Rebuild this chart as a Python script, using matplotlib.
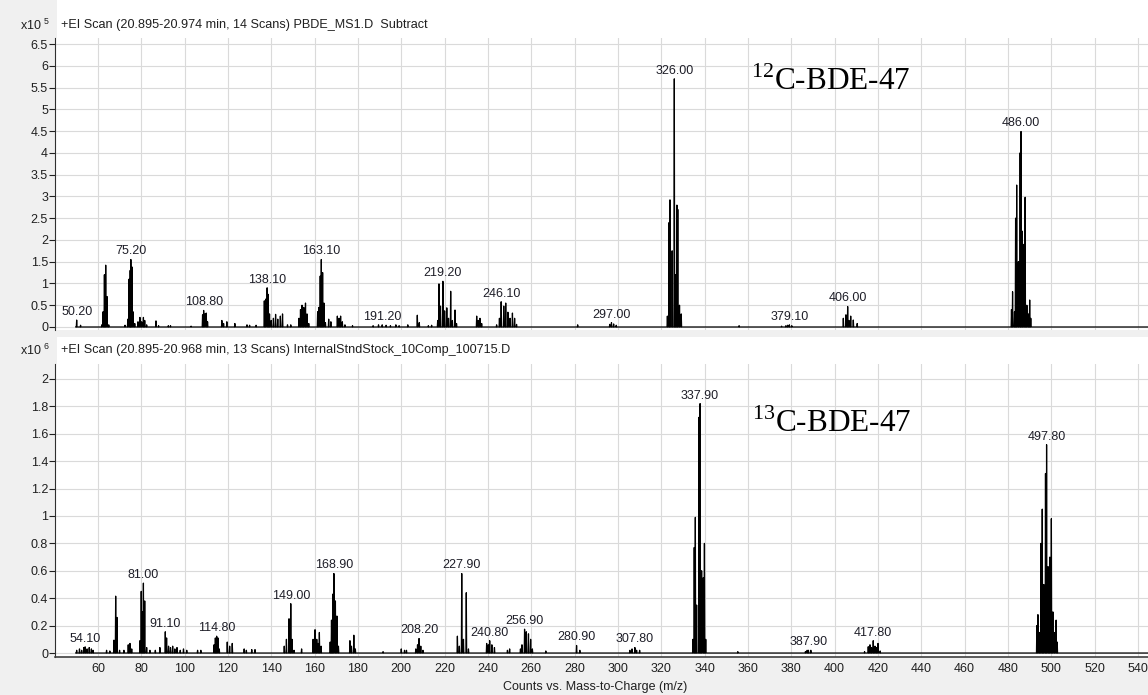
import numpy as np
import matplotlib
matplotlib.use("Agg")
import matplotlib.pyplot as plt
from matplotlib.patches import Rectangle

plt.rcParams['font.family'] = ['Liberation Sans', 'DejaVu Sans']

# 12C-BDE-47 spectrum (counts x10^5), centroided peaks
top_mz = [50.2, 52.0, 61.8, 62.4, 63.0, 63.6, 64.2, 65.0, 72.5, 73.8, 74.4, 74.9, 75.2, 75.7, 76.2, 77.0,
          78.5, 79.4, 80.2, 81.0, 81.6, 82.5, 86.8, 88.0, 92.5, 93.5, 103.0,
          108.3, 108.8, 109.4, 110.0, 110.6, 117.2, 118.0, 119.5, 123.2, 128.8, 130.0, 133.0,
          136.8, 137.4, 138.1, 138.6, 139.2, 140.0, 141.0, 142.0, 143.0, 144.2, 145.2, 147.5, 149.0,
          152.8, 153.5, 154.2, 155.0, 155.8, 156.5, 157.3,
          161.4, 162.0, 162.6, 163.1, 163.7, 164.3, 165.0, 166.5, 167.5, 170.5, 171.3, 172.0, 172.8, 174.0, 177.5,
          187.0, 189.5, 191.2, 193.0, 195.0, 197.5, 199.0, 203.0, 207.4, 208.3, 212.5, 214.0,
          216.8, 217.4, 218.1, 219.2, 220.0, 221.0, 221.8, 222.8, 223.6, 224.8, 225.5,
          234.8, 235.5, 236.3, 237.1,
          244.0, 245.3, 246.1, 247.3, 248.2, 249.2, 250.2, 251.3, 252.3, 253.2,
          281.4, 296.2, 297.0, 298.0, 299.2,
          322.8, 323.6, 324.0, 325.0, 326.0, 326.6, 327.2, 327.6, 328.4, 329.2,
          355.9, 375.5, 377.5, 378.3, 379.1, 380.2,
          404.0, 405.2, 406.0, 406.6, 407.4, 408.6, 410.4,
          481.6, 482.1, 483.0, 483.5, 484.0, 484.8, 485.6, 486.0, 486.6, 487.4, 487.9, 488.7, 489.4, 490.0, 490.5]
top_counts = [0.16, 0.04, 0.05, 0.35, 1.2, 1.42, 0.7, 0.05, 0.04, 0.18, 1.1, 1.3, 1.55, 1.38, 0.35, 0.08,
              0.12, 0.22, 0.12, 0.22, 0.15, 0.05, 0.14, 0.03, 0.03, 0.03, 0.02,
              0.28, 0.38, 0.3, 0.32, 0.12, 0.15, 0.08, 0.12, 0.08, 0.05, 0.04, 0.04,
              0.6, 0.64, 0.9, 0.75, 0.3, 0.15, 0.2, 0.29, 0.18, 0.25, 0.3, 0.05, 0.05,
              0.2, 0.4, 0.5, 0.45, 0.55, 0.3, 0.08,
              0.35, 0.45, 1.17, 1.55, 1.25, 0.55, 0.1, 0.18, 0.12, 0.25, 0.2, 0.25, 0.12, 0.05, 0.03,
              0.03, 0.05, 0.05, 0.04, 0.03, 0.05, 0.03, 0.05, 0.27, 0.1, 0.03, 0.04,
              0.15, 0.99, 0.48, 1.05, 0.37, 0.44, 0.2, 0.82, 0.15, 0.39, 0.08,
              0.25, 0.15, 0.2, 0.08,
              0.05, 0.2, 0.58, 0.48, 0.55, 0.34, 0.2, 0.32, 0.2, 0.06,
              0.05, 0.06, 0.1, 0.07, 0.04,
              0.25, 2.4, 2.92, 1.75, 5.7, 1.2, 2.8, 2.7, 0.5, 0.3,
              0.03, 0.02, 0.03, 0.04, 0.05, 0.03,
              0.2, 0.28, 0.47, 0.15, 0.25, 0.16, 0.08,
              0.4, 0.81, 0.35, 2.5, 3.26, 1.5, 4.0, 4.49, 2.2, 1.9, 2.98, 0.5, 0.3, 0.62, 0.2]
top_labels = [50.2, 75.2, 108.8, 138.1, 163.1, 191.2, 219.2, 246.1, 297.0, 326.0, 379.1, 406.0, 486.0]

# 13C-BDE-47 internal standard (counts x10^6)
bot_mz = [50.2, 51.5, 52.5, 53.5, 54.1, 55.0, 56.0, 57.0, 57.8, 64.0, 65.5, 67.4, 68.2, 68.8, 70.0,
          72.0, 74.0, 74.8, 75.6, 79.4, 80.0, 80.5, 81.0, 81.6, 82.5, 84.0, 86.5, 88.6,
          91.1, 91.7, 92.6, 93.5, 94.5, 95.5, 96.5, 98.0, 99.5, 101.0, 106.0, 107.5,
          113.6, 114.2, 114.8, 115.4, 116.0, 119.7, 120.8, 122.0, 127.5, 128.5, 131.0, 132.5,
          146.0, 147.0, 148.2, 149.0, 149.6, 150.5, 154.0,
          159.3, 160.2, 161.0, 161.6, 162.2, 163.0,
          167.2, 167.8, 168.4, 168.9, 169.6, 170.3, 171.0, 176.3, 177.0, 178.1, 178.8, 191.6,
          200.0, 201.5, 202.4, 206.7, 207.5, 208.2, 209.0, 210.0,
          225.9, 226.8, 227.9, 228.7, 230.0, 231.0,
          239.4, 240.2, 240.8, 241.8, 243.0, 249.0, 250.0,
          255.0, 255.7, 256.9, 257.7, 258.7, 259.7, 260.5, 266.7, 280.9, 282.4,
          305.5, 306.5, 307.8, 308.6, 310.0,
          334.6, 335.2, 335.7, 336.3, 337.4, 337.9, 338.6, 339.4, 339.9, 340.5,
          355.3, 386.5, 387.3, 387.9, 389.0,
          413.8, 415.5, 416.3, 417.0, 417.8, 418.6, 419.2, 420.0, 421.0,
          493.3, 493.8, 494.6, 495.2, 495.8, 496.5, 497.3, 497.8, 498.5, 499.3, 500.0, 500.7, 501.6, 502.2, 502.7]
bot_counts = [0.02, 0.03, 0.02, 0.04, 0.045, 0.03, 0.04, 0.03, 0.02, 0.02, 0.015, 0.094, 0.415, 0.26, 0.02,
              0.02, 0.06, 0.07, 0.03, 0.09, 0.45, 0.3, 0.51, 0.38, 0.04, 0.02, 0.02, 0.04,
              0.155, 0.11, 0.05, 0.04, 0.05, 0.03, 0.04, 0.02, 0.03, 0.02, 0.02, 0.02,
              0.06, 0.11, 0.123, 0.11, 0.03, 0.08, 0.05, 0.07, 0.03, 0.02, 0.025, 0.025,
              0.05, 0.1, 0.25, 0.36, 0.1, 0.02, 0.03,
              0.1, 0.17, 0.1, 0.07, 0.15, 0.05,
              0.08, 0.24, 0.43, 0.58, 0.38, 0.27, 0.05, 0.09, 0.05, 0.13, 0.03, 0.01,
              0.03, 0.02, 0.02, 0.03, 0.06, 0.106, 0.05, 0.02,
              0.123, 0.05, 0.58, 0.1, 0.44, 0.03,
              0.07, 0.06, 0.09, 0.06, 0.04, 0.02, 0.03,
              0.03, 0.06, 0.174, 0.155, 0.14, 0.1, 0.03, 0.015, 0.055, 0.02,
              0.02, 0.03, 0.04, 0.02, 0.02,
              0.1, 0.77, 0.99, 0.35, 1.72, 1.82, 0.6, 0.55, 0.8, 0.1,
              0.01, 0.01, 0.02, 0.02, 0.02,
              0.01, 0.046, 0.06, 0.04, 0.09, 0.05, 0.04, 0.07, 0.015,
              0.2, 0.28, 0.15, 0.8, 1.05, 0.5, 1.31, 1.52, 0.63, 0.7, 0.98, 0.3, 0.15, 0.24, 0.08]
bot_labels = [54.1, 81.0, 91.1, 114.8, 149.0, 168.9, 208.2, 227.9, 240.8, 256.9, 280.9,
              307.8, 337.9, 387.9, 417.8, 497.8]

W, H = 1148, 695
GRID = '#dadada'


def box(x0, y0, x1, y1):
    return [x0 / W, 1 - y1 / H, (x1 - x0) / W, (y1 - y0) / H]


def profile(mz, counts, half=0.17):
    # every peak drawn as a narrow spike on a zero baseline
    xs = [49.8, 560.0]
    ys = [0.0, 0.0]
    for m, c in zip(mz, counts):
        xs += [m - half, m, m + half]
        ys += [0.0, c, 0.0]
    order = np.argsort(xs, kind='stable')
    return np.array(xs)[order], np.array(ys)[order]


def spectrum(ax, mz, counts, labels, yticks, ylim):
    x, y = profile(mz, counts)
    ax.plot(x, y, color='black', lw=0.9, zorder=3)
    ax.set_xlim(40.2, 544.6)
    ax.set_ylim(*ylim)
    ax.set_xticks(np.arange(60, 541, 20))
    ax.set_yticks(yticks)
    ax.set_yticklabels([f'{v:g}' for v in yticks])
    ax.grid(True, color=GRID, lw=0.8)
    ax.set_axisbelow(True)
    for s in ('top', 'right', 'bottom'):
        ax.spines[s].set_visible(False)
    ax.spines['left'].set_color('#303030')
    ax.tick_params(axis='y', direction='out', length=4, width=0.8, pad=1,
                   labelsize=9, colors='#202020')
    lookup = dict(zip(mz, counts))
    for m in labels:
        ax.annotate(f'{m:.2f}', (m, lookup[m]), xytext=(0, 1.5), textcoords='offset points',
                    ha='center', va='bottom', fontsize=9, color='#1e1e28', zorder=4)


fig = plt.figure(figsize=(W / 100, H / 100), dpi=100, facecolor='#f0f0f0')
fig.patches.append(Rectangle((57 / W, 1 - 657 / H), 1 - 57 / W, 657 / H, transform=fig.transFigure,
                             facecolor='white', edgecolor='none', zorder=-2))
fig.patches.append(Rectangle((57 / W, 1 - 337 / H), 1 - 57 / W, 7 / H, transform=fig.transFigure,
                             facecolor='#f0f0f0', edgecolor='none', zorder=-1))

ax1 = fig.add_axes(box(55, 38, 1148, 330))
ax1.set_facecolor('white')
spectrum(ax1, top_mz, top_counts, top_labels, np.arange(0, 6.51, 0.5), (-0.069, 6.638))
ax1.tick_params(axis='x', length=0, labelbottom=False)

ax2 = fig.add_axes(box(55, 364, 1148, 657))
ax2.set_facecolor('white')
spectrum(ax2, bot_mz, bot_counts, bot_labels, np.arange(0, 2.01, 0.2), (-0.029, 2.109))
ax2.spines['bottom'].set_visible(True)
ax2.spines['bottom'].set_color('#404040')
ax2.spines['bottom'].set_linewidth(1.2)
ax2.tick_params(axis='x', length=0, pad=4, labelsize=9, colors='#202020')

# panel headers
fig.text(20 / W, 1 - 25 / H, r'x10 $^{\mathregular{5}}$', fontsize=9, va='center', color='#202020')
fig.text(61 / W, 1 - 25 / H, '+EI Scan (20.895-20.974 min, 14 Scans) PBDE_MS1.D  Subtract',
         fontsize=9.1, va='center', color='#202020')
fig.text(20 / W, 1 - 350 / H, r'x10 $^{\mathregular{6}}$', fontsize=9, va='center', color='#202020')
fig.text(61 / W, 1 - 350 / H, '+EI Scan (20.895-20.968 min, 13 Scans) InternalStndStock_10Comp_100715.D',
         fontsize=9.1, va='center', color='#202020')

fig.text(595 / W, 1 - 687 / H, 'Counts vs. Mass-to-Charge (m/z)', fontsize=9, ha='center',
         va='center', color='#202020')

# compound names
ax1.text(361.5, 5.44, r'$^{\mathregular{12}}$C-BDE-47', family='Liberation Serif', fontsize=22.5,
         ha='left', va='baseline', color='black', zorder=5)
ax2.text(362.0, 1.613, r'$^{\mathregular{13}}$C-BDE-47', family='Liberation Serif', fontsize=22.5,
         ha='left', va='baseline', color='black', zorder=5)

fig.savefig('out.png', dpi=100, facecolor=fig.get_facecolor())
